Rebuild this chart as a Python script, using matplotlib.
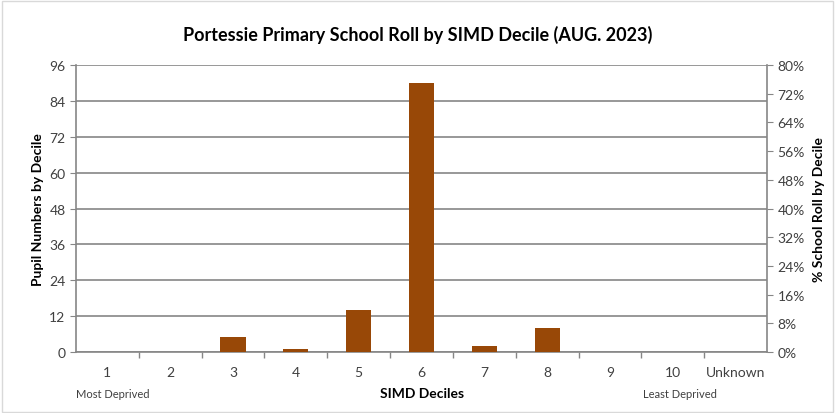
import matplotlib.pyplot as plt
from matplotlib.patches import Rectangle

plt.rcParams['font.family'] = ['Lato', 'DejaVu Sans']

categories = ['1', '2', '3', '4', '5', '6', '7', '8', '9', '10', 'Unknown']
pupils = [0, 0, 5, 1, 14, 90, 2, 8, 0, 0, 0]
left_ticks = [0, 12, 24, 36, 48, 60, 72, 84, 96]
right_ticks = [0, 8, 16, 24, 32, 40, 48, 56, 64, 72, 80]

bar_color = '#984807'
grid_color = '#868686'
text_color = '#404040'

fig = plt.figure(figsize=(8.36, 4.14), dpi=100)
ax = fig.add_axes([0.0909, 0.1473, 0.8266, 0.6933])

x = list(range(len(categories)))
ax.bar(x, pupils, width=0.4, color=bar_color, zorder=3)

ax.set_xlim(-0.5, len(categories) - 0.5)
ax.set_ylim(0, 96)
ax.set_yticks(left_ticks)
ax.yaxis.grid(True, color=grid_color, linewidth=1.2, zorder=0)
ax.set_xticks(x)
ax.set_xticklabels(categories)
# tick marks sit between categories
ax.set_xticks([i + 0.5 for i in x[:-1]], minor=True)
ax.tick_params(axis='x', which='major', length=0, pad=10, labelsize=10, labelcolor=text_color)
ax.tick_params(axis='x', which='minor', length=4, color=grid_color, width=1)
ax.tick_params(axis='y', length=4, color=grid_color, labelsize=10, labelcolor=text_color)

for side in ['top', 'right']:
    ax.spines[side].set_visible(False)
for side in ['left', 'bottom']:
    ax.spines[side].set_color(grid_color)
    ax.spines[side].set_linewidth(1.2)

ax.set_ylabel('Pupil Numbers by Decile', fontsize=10, fontweight='bold', labelpad=4)

ax2 = ax.twinx()
ax2.set_ylim(0, 80)
ax2.set_yticks(right_ticks)
ax2.set_yticklabels([f'{t}%' for t in right_ticks])
ax2.tick_params(axis='y', length=4, color=grid_color, labelsize=10, labelcolor=text_color)
for side in ['top', 'left', 'bottom']:
    ax2.spines[side].set_visible(False)
ax2.spines['right'].set_color(grid_color)
ax2.spines['right'].set_linewidth(1.2)
ax2.set_ylabel('% School Roll by Decile', fontsize=10, fontweight='bold', labelpad=6)

fig.text(0.5, 0.915, 'Portessie Primary School Roll by SIMD Decile (AUG. 2023)',
         ha='center', va='center', fontsize=13, fontweight='bold', color='black')
fig.text(0.505, 0.048, 'SIMD Deciles', ha='center', va='center', fontsize=10, fontweight='bold')
fig.text(0.135, 0.048, 'Most Deprived', ha='center', va='center', fontsize=8, color=text_color)
fig.text(0.813, 0.048, 'Least Deprived', ha='center', va='center', fontsize=8, color=text_color)

fig.patches.append(Rectangle((0.002, 0.003), 0.995, 0.993, transform=fig.transFigure,
                             fill=False, edgecolor='#d9d9d9', linewidth=1))

fig.savefig('out.png', dpi=100)
